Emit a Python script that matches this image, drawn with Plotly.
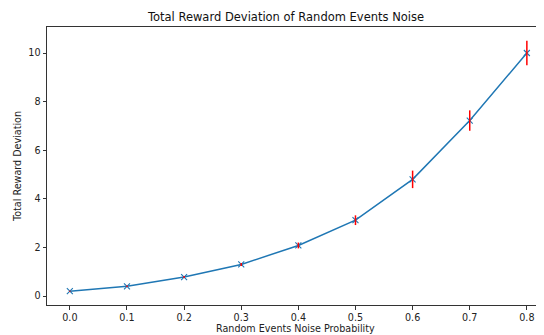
import plotly.graph_objects as go

noise_prob = [0.0, 0.1, 0.2, 0.3, 0.4, 0.5, 0.6, 0.7, 0.8]
reward_dev = [0.2, 0.4, 0.78, 1.3, 2.08, 3.12, 4.8, 7.22, 10.0]
reward_err = [0.02, 0.03, 0.04, 0.06, 0.12, 0.2, 0.36, 0.42, 0.5]
x_ticks = [0.0, 0.1, 0.2, 0.3, 0.4, 0.5, 0.6, 0.7, 0.8]
y_ticks = [0, 2, 4, 6, 8, 10]

font = "DejaVu Sans, Arial, sans-serif"

# The page body has an 8px margin, so the figure is drawn 8px in from the
# top-left corner of the window; size and margins compensate for that.
fig = go.Figure()
fig.add_trace(go.Scatter(
    x=noise_prob, y=reward_dev,
    mode="lines+markers",
    line=dict(color="#1f77b4", width=1.5),
    marker=dict(symbol="x-thin", size=6, line=dict(color="#1f77b4", width=1.1)),
    showlegend=False, hoverinfo="skip",
))
# error bars drawn on top of the line and markers
fig.add_trace(go.Scatter(
    x=noise_prob, y=reward_dev,
    mode="markers",
    marker=dict(size=1, color="rgba(0,0,0,0)"),
    error_y=dict(type="data", array=reward_err, color="red", thickness=1.5, width=0),
    showlegend=False,
))

fig.update_layout(
    width=536, height=327,
    margin=dict(l=39, r=0, t=19, b=30, autoexpand=False),
    paper_bgcolor="white", plot_bgcolor="white",
    font=dict(family=font, size=9.6, color="#222"),
    title=dict(text="Total Reward Deviation of Random Events Noise",
               x=278 / 536, xanchor="center", xref="container",
               y=1 - 9 / 327, yanchor="middle",
               font=dict(size=11.5, color="#111")),
    xaxis=dict(range=[-0.04, 0.83], tickvals=x_ticks,
               ticktext=[f"{v:.1f}" for v in x_ticks],
               showgrid=False, zeroline=False,
               showline=True, linecolor="#333", linewidth=1, mirror=True,
               ticks="outside", ticklen=3.5, tickcolor="#333"),
    yaxis=dict(range=[-0.37, 11.07], tickvals=y_ticks,
               showgrid=False, zeroline=False,
               showline=True, linecolor="#333", linewidth=1, mirror=False,
               ticks="outside", ticklen=3.5, tickcolor="#333",
               title=dict(text="Total Reward Deviation", standoff=5,
                          font=dict(size=9.6))),
    annotations=[dict(text="Random Events Noise Probability",
                      xref="paper", yref="paper", x=0.5, y=0,
                      xanchor="center", yanchor="middle", yshift=-23.5,
                      showarrow=False, font=dict(size=9.6, color="#222"))],
)

fig.write_html("out.html")
